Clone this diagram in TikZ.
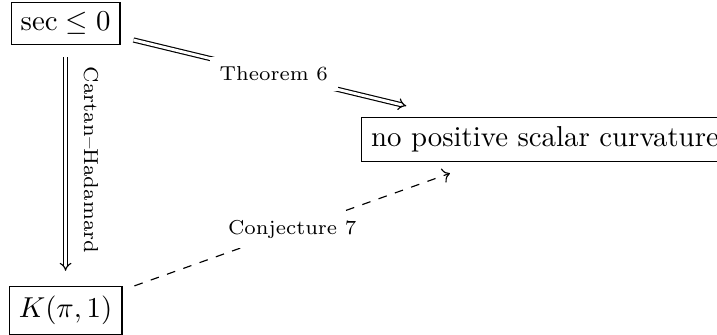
\documentclass[tikz,border=0pt]{standalone}
\usepackage{amsmath,amssymb}
\usetikzlibrary{arrows.meta}
\tikzset{
  box/.style  ={draw, inner sep=3.33pt, line width=0.4pt},
  impl/.style ={double, double distance=1pt, -{Implies}, line width=0.4pt},
  conj/.style ={dashed, -{To}, line width=0.4pt},
  desc/.style ={fill=white, font=\scriptsize},
  side/.style ={rotate=-90, anchor=south, outer sep=3pt, font=\scriptsize},
}
\begin{document}
\begin{tikzpicture}
  \useasboundingbox (0,0) rectangle (8.75,4.088);
  \node[box] (sec)  at (0.80,3.80)   {$\sec \leq 0$};
  \node[box] (kpi)  at (0.80,0.30)   {$K(\pi,1)$};
  \node[box] (npsc) at (6.65,2.386) {no positive scalar curvature};
  % implications
  \draw[impl, shorten <=4.2pt, shorten >=5.2pt] (sec) -- (kpi)
    node[side, pos=0.478] {Cartan--Hadamard};
  \draw[impl, shorten <=4.6pt, shorten >=15.6pt] (sec) -- (npsc)
    node[desc, pos=0.465] {Theorem 6};
  \draw[conj, shorten <=4.4pt, shorten >=11.3pt] (kpi) -- (npsc)
    node[desc, pos=0.474] {Conjecture 7};
\end{tikzpicture}
\end{document}
